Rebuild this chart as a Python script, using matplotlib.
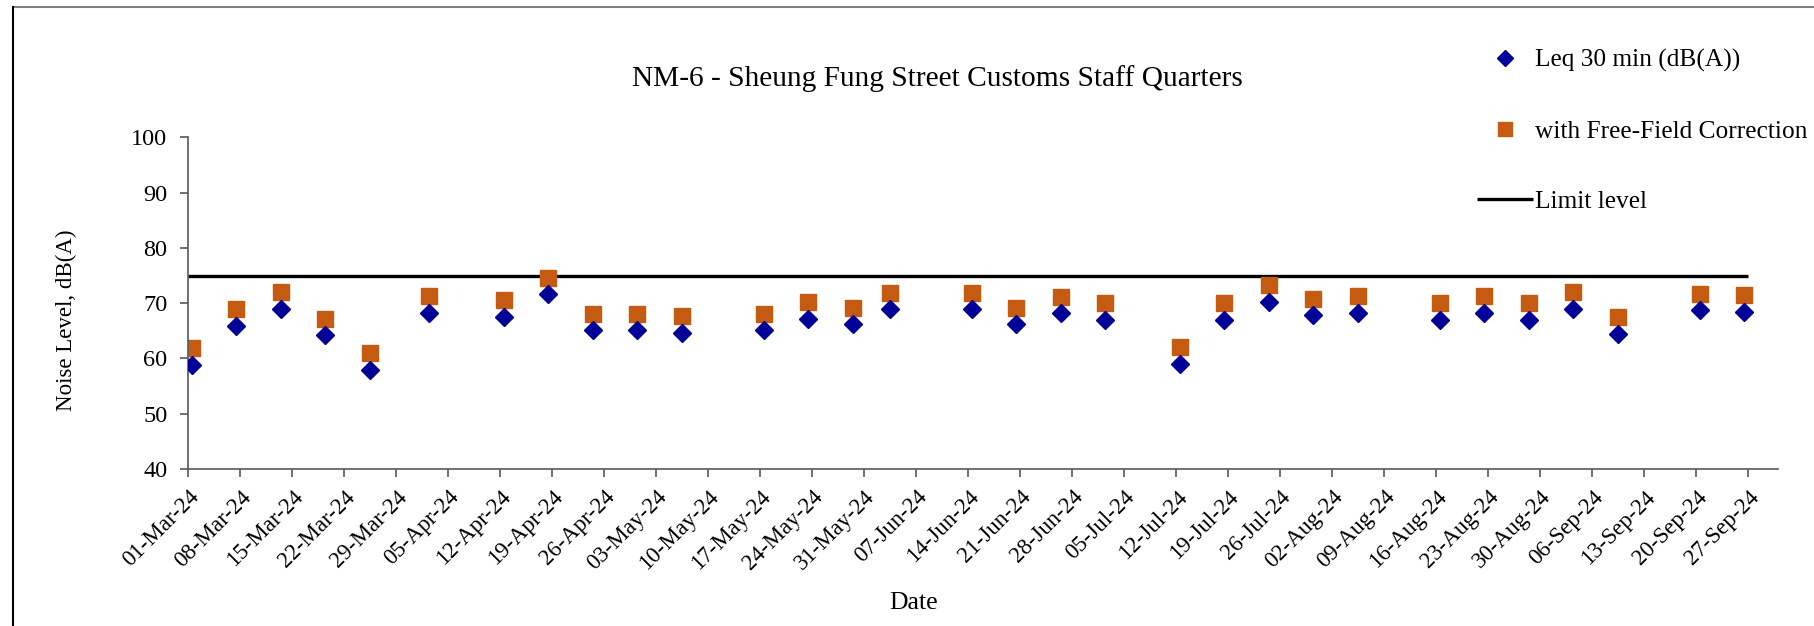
import matplotlib
matplotlib.use("Agg")
import matplotlib.pyplot as plt
import matplotlib.dates as mdates
from matplotlib.lines import Line2D
import pandas as pd

plt.rcParams['font.family'] = ['Liberation Serif', 'DejaVu Serif']

# ---- data ----
dates = ["2024-03-01", "2024-03-07", "2024-03-13", "2024-03-19", "2024-03-25",
         "2024-04-02", "2024-04-12", "2024-04-18", "2024-04-24", "2024-04-30",
         "2024-05-06", "2024-05-17", "2024-05-23", "2024-05-29", "2024-06-03",
         "2024-06-14", "2024-06-20", "2024-06-26", "2024-07-02", "2024-07-12",
         "2024-07-18", "2024-07-24", "2024-07-30", "2024-08-05", "2024-08-16",
         "2024-08-22", "2024-08-28", "2024-09-03", "2024-09-09", "2024-09-20",
         "2024-09-26"]
measure_time = "11:00"
leq = [58.9, 65.9, 69.0, 64.2, 57.9,
       68.3, 67.5, 71.6, 65.1, 65.1,
       64.6, 65.1, 67.2, 66.2, 68.9,
       68.9, 66.2, 68.2, 67.0, 59.0,
       67.0, 70.2, 67.8, 68.3, 67.0,
       68.3, 67.0, 69.0, 64.5, 68.7,
       68.4]
leq_ff = [61.9, 68.9, 72.0, 67.2, 60.9,
          71.3, 70.5, 74.6, 68.1, 68.1,
          67.6, 68.1, 70.2, 69.2, 71.9,
          71.9, 69.2, 71.2, 70.0, 62.0,
          70.0, 73.2, 70.8, 71.3, 70.0,
          71.3, 70.0, 72.0, 67.5, 71.7,
          71.4]
limit_dates = ["2024-03-01", "2024-09-27"]
limit_values = [75, 75]
x_start, x_end = "2024-03-01", "2024-10-01"
last_tick = "2024-09-27"
y_ticks = [40, 50, 60, 70, 80, 90, 100]

title = "NM-6 - Sheung Fung Street Customs Staff Quarters"
label_leq = "Leq 30 min (dB(A))"
label_ff = "with Free-Field Correction"
label_limit = "Limit level"

# ---- figure ----
W, H = 1814, 626
fig = plt.figure(figsize=(W / 100, H / 100), dpi=100)
ax = fig.add_axes([188.3 / W, 1 - 469 / H, (1778 - 188.3) / W, (469 - 137.3) / H])

t = pd.to_datetime([d + " " + measure_time for d in dates])
ax.plot(t, leq, linestyle='none', marker='D', markersize=9.4,
        color='#000099', label=label_leq, zorder=3)
ax.plot(t, leq_ff, linestyle='none', marker='s', markersize=11.8,
        color='#C55A11', label=label_ff, zorder=2)
ax.plot(pd.to_datetime(limit_dates), limit_values, color='black', lw=2.4,
        label=label_limit, zorder=1, solid_capstyle='butt')

ax.set_xlim(pd.Timestamp(x_start), pd.Timestamp(x_end))
ax.set_ylim(y_ticks[0], y_ticks[-1])
ax.set_yticks(y_ticks)
ticks = pd.date_range(x_start, last_tick, freq="7D")
ax.set_xticks(ticks)
ax.xaxis.set_major_formatter(mdates.DateFormatter('%d-%b-%y'))

for s in ['top', 'right']:
    ax.spines[s].set_visible(False)
for s in ['left', 'bottom']:
    ax.spines[s].set_color('#595959')
    ax.spines[s].set_linewidth(1.2)
ax.tick_params(axis='both', direction='out', length=5.5, width=1.2,
               color='#595959')
ax.tick_params(axis='y', labelsize=17.5, pad=9.5)
ax.tick_params(axis='x', labelsize=16.5, pad=7)
for lab in ax.get_xticklabels():
    lab.set_rotation(45)
    lab.set_ha('right')
    lab.set_rotation_mode('anchor')

fig.text(937 / W, 1 - 78.7 / H, title, fontsize=21.2, ha='center', va='center')
fig.text(66 / W, 1 - 320 / H, "Noise Level, dB(A)", fontsize=16.5,
         rotation=90, ha='center', va='center')
fig.text(914 / W, 1 - 603 / H, "Date", fontsize=18.5, ha='center', va='center')

handles, labels = ax.get_legend_handles_labels()
fig.legend(handles, labels, loc='upper left',
           bbox_to_anchor=(1477 / W, 1 - 49 / H), frameon=False,
           fontsize=18.3, labelspacing=1.88, handlelength=2.2,
           handletextpad=0.1, borderpad=0, borderaxespad=0, markerscale=0.88)

# outer chart border (top and left edges visible)
fig.add_artist(Line2D([13 / W, 1], [1 - 7 / H, 1 - 7 / H], color='#7f7f7f', lw=1.5,
                      transform=fig.transFigure))
fig.add_artist(Line2D([13 / W, 13 / W], [0, 1 - 7 / H], color='black', lw=1.5,
                      transform=fig.transFigure))

fig.savefig("out.png", dpi=100)
